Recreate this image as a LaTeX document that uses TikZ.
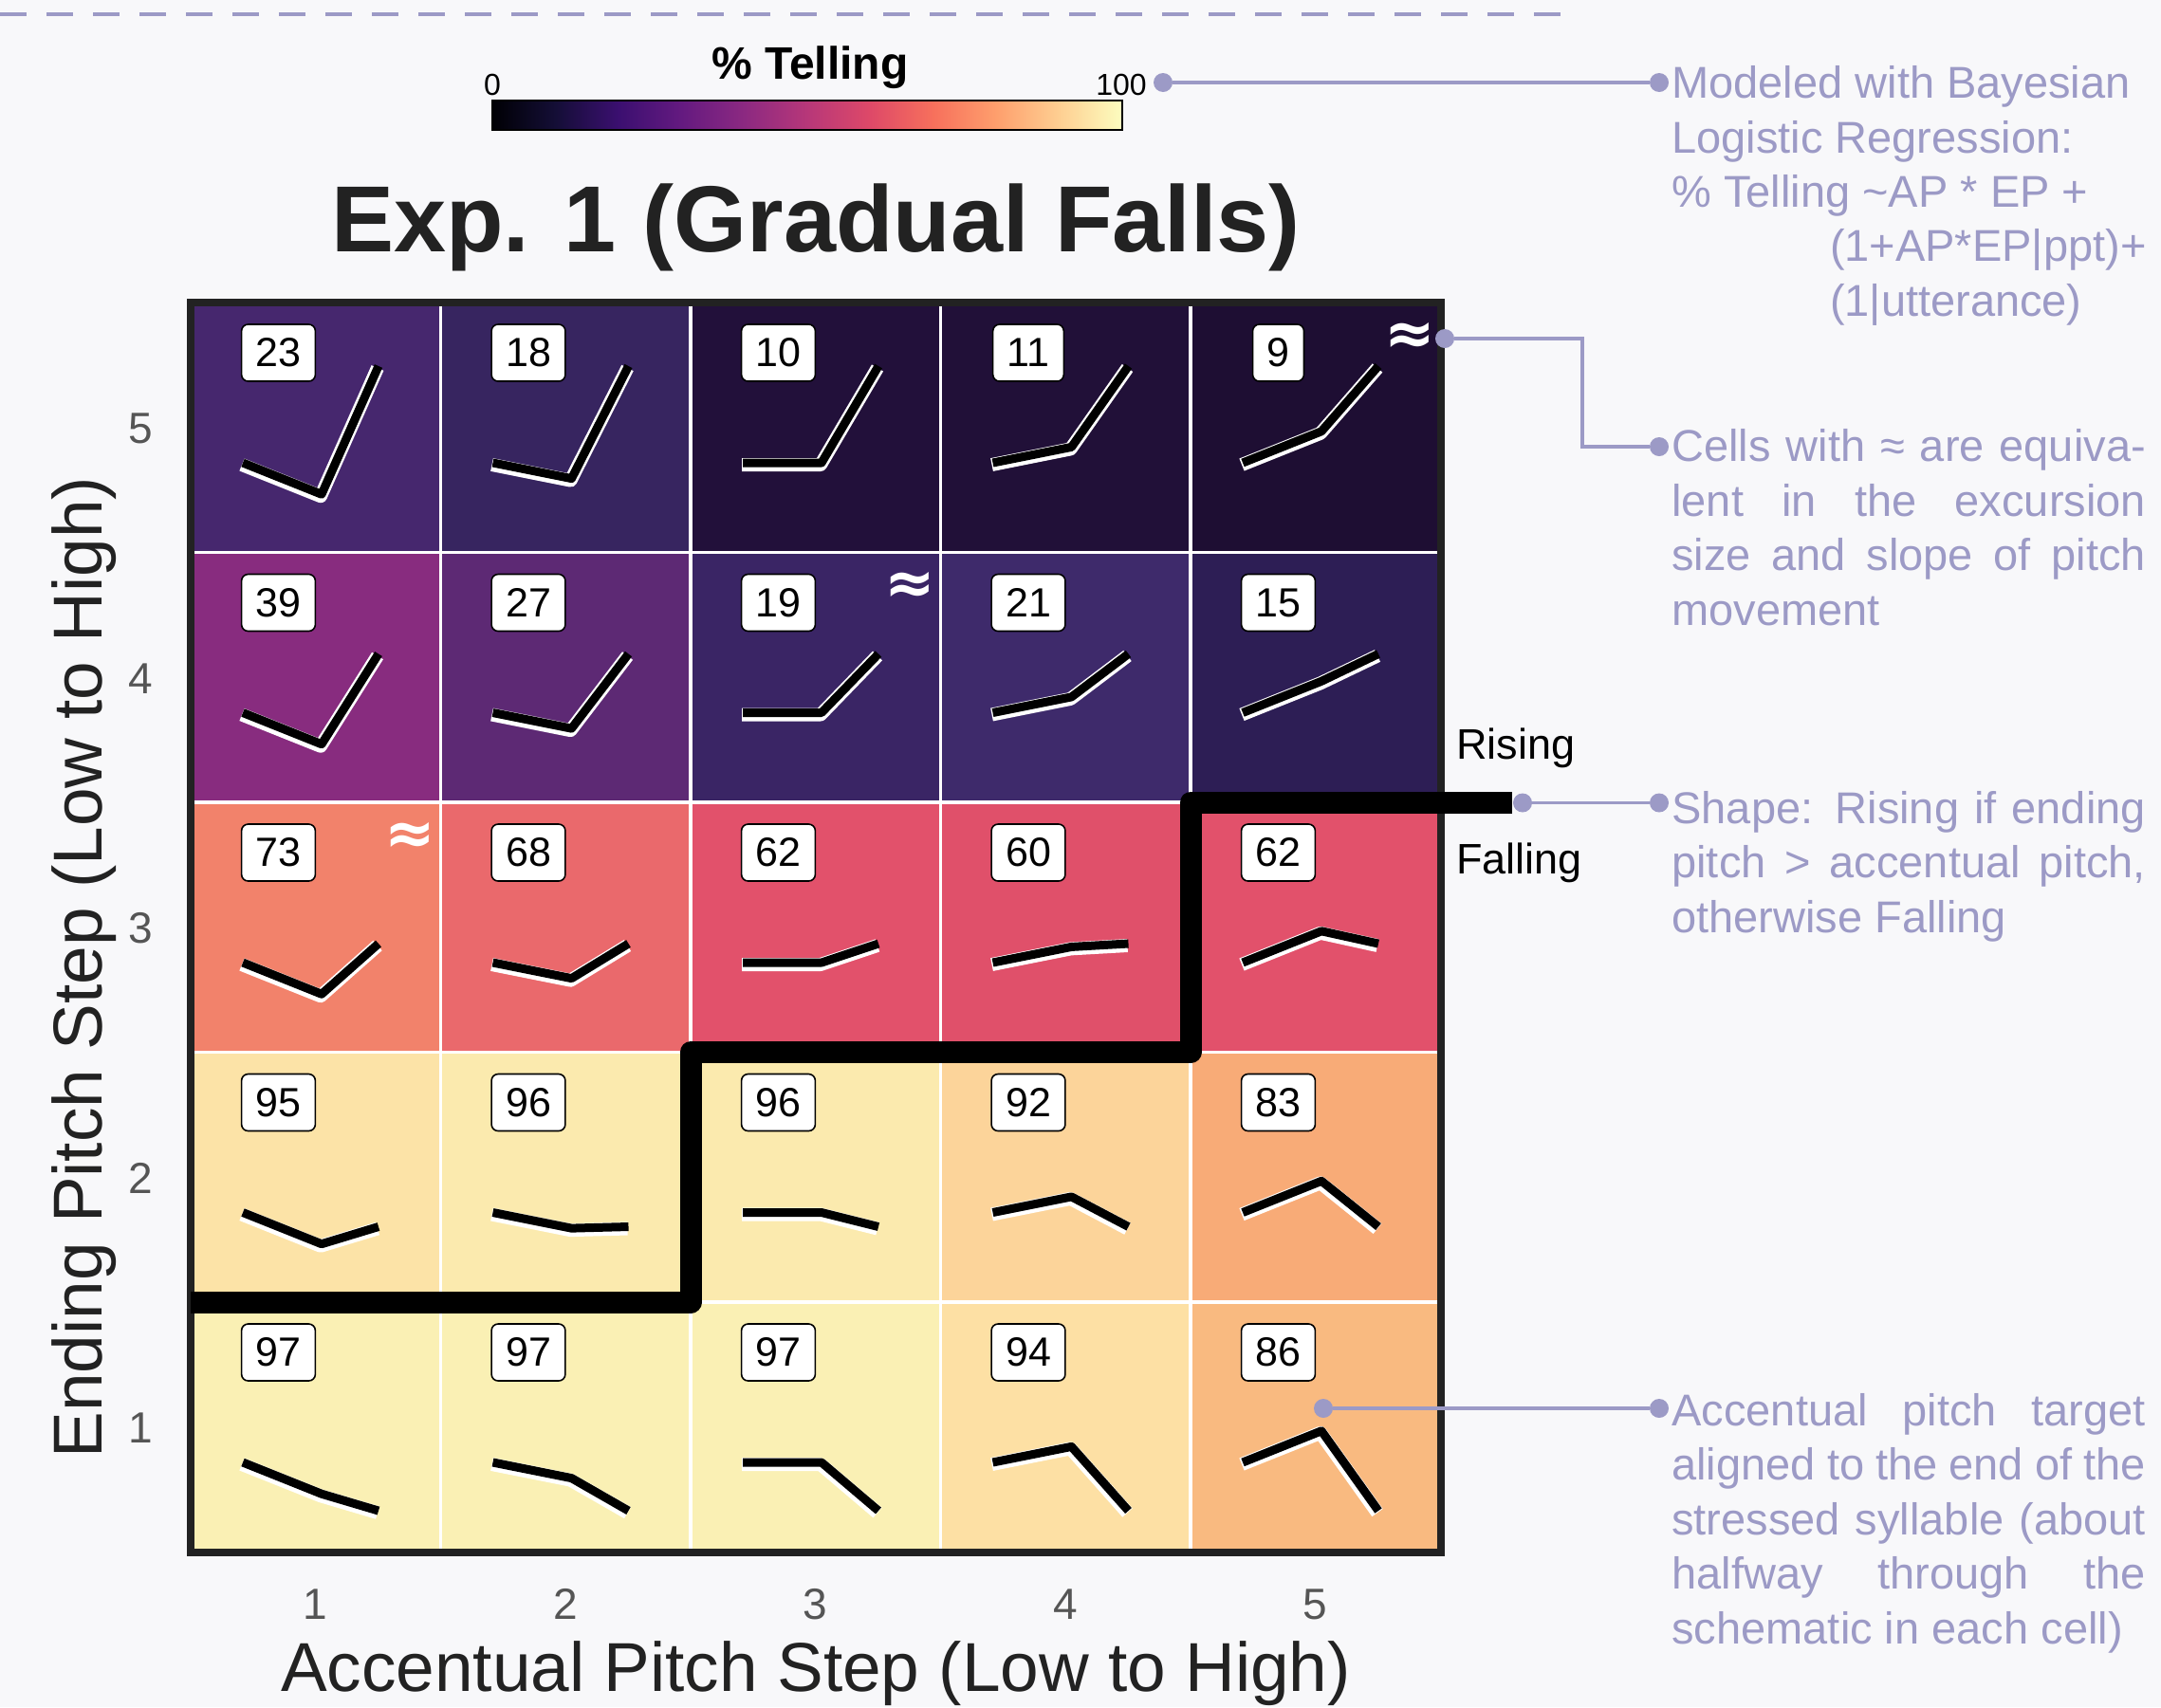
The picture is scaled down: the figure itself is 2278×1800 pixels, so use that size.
\documentclass[tikz,border=0pt]{standalone}
\usepackage{fontspec}
\setmainfont{Liberation Sans}
\newfontfamily\symfont{DejaVu Sans}
\usetikzlibrary{calc}

\definecolor{bgc}{HTML}{F8F8FA}
\definecolor{lav}{HTML}{9C9AC6}
\definecolor{framec}{HTML}{222222}
\definecolor{tickc}{HTML}{555555}
\definecolor{labc}{HTML}{222222}
\definecolor{mg0}{HTML}{000004}
\definecolor{mg1}{HTML}{140E36}
\definecolor{mg2}{HTML}{3B0F70}
\definecolor{mg3}{HTML}{641A80}
\definecolor{mg4}{HTML}{8C2981}
\definecolor{mg5}{HTML}{B73779}
\definecolor{mg6}{HTML}{DE4968}
\definecolor{mg7}{HTML}{F7705C}
\definecolor{mg8}{HTML}{FE9F6D}
\definecolor{mg9}{HTML}{FECF92}
\definecolor{mg10}{HTML}{FCFDBF}
\pgfdeclarehorizontalshading{magmashade}{100bp}{color(0bp)=(mg0); color(25bp)=(mg0); color(30bp)=(mg1); color(35bp)=(mg2); color(40bp)=(mg3); color(45bp)=(mg4); color(50bp)=(mg5); color(55bp)=(mg6); color(60bp)=(mg7); color(65bp)=(mg8); color(70bp)=(mg9); color(75bp)=(mg10); color(100bp)=(mg10)}

\newcommand{\jline}[1]{\makebox[249.75pt][s]{#1}}

\begin{document}
\begin{tikzpicture}[x=0.5pt,y=-0.5pt,
  numbox/.style={draw=black,line width=0.8pt,fill=white,rounded corners=3.5pt,inner xsep=7.5pt,inner ysep=0pt,minimum height=30pt,font=\fontsize{21.5}{22}\selectfont},
  pitchw/.style={white,line width=7pt,line join=round,xshift=-0.5pt,yshift=-1pt},
  pitchb/.style={black,line width=4.5pt,line join=round},
  approx/.style={text=white,font=\symfont\bfseries\fontsize{32}{32}\selectfont,inner sep=0pt},
  conn/.style={lav,line width=1.7pt},
  dot/.style={circle,fill=lav,inner sep=0pt,minimum size=10pt},
  annot/.style={text=lav,font=\fontsize{23.5}{28}\selectfont,inner sep=0pt,anchor=base west},
  tick/.style={text=tickc,font=\fontsize{23}{23}\selectfont,inner sep=0pt,anchor=base},
  axlab/.style={text=labc,font=\fontsize{36.5}{37}\selectfont,inner sep=0pt,anchor=base},
  shapelab/.style={text=black,font=\fontsize{22.5}{23}\selectfont,inner sep=0pt,anchor=base west}
]
\fill[bgc] (0,0) rectangle (2278,1800);
\useasboundingbox (0,0) rectangle (2278,1800);

% top dashed rule
\draw[lav,line width=1.6pt,dash pattern=on 14pt off 10.5pt] (0,15) -- (1660,15);

% colour bar
\shade[shading=magmashade] (519,106) rectangle (1183,137);
\draw[black,line width=0.6pt] (519,106) rectangle (1183,137);
\node[font=\fontsize{16}{16}\selectfont,anchor=base,inner sep=0pt] (cb0) at (519,100) {0};
\node[font=\fontsize{16}{16}\selectfont,anchor=base,inner sep=0pt] (cb100) at (1182,100) {100};
\node[font=\bfseries\fontsize{24}{24}\selectfont,anchor=base,inner sep=0pt] (cbt) at (854,83) {\% Telling};

% title
\node[font=\bfseries\fontsize{49.5}{50}\selectfont,text=labc,anchor=base,inner sep=0pt] (title) at (860,265) {Exp. 1 (Gradual Falls)};

% cells
\foreach \ap/\ep/\val/\hex/\ey in {
 1/5/23/46276E/67, 2/5/18/372560/67, 3/5/10/22103A/67, 4/5/11/211038/67, 5/5/9/1E0E33/67,
 1/4/39/882C7F/107, 2/4/27/5D2974/107, 3/4/19/3A2565/107, 4/4/21/3E2A6B/107, 5/4/15/2D1E55/107,
 1/3/73/F2826B/149, 2/3/68/EA696C/149, 3/3/62/E2516B/149, 4/3/60/E0506A/149, 5/3/62/E2516B/149,
 1/2/95/FCE3A7/184, 2/2/96/FBEAAE/184, 3/2/96/FBEAAE/184, 4/2/92/FCD49A/184, 5/2/83/F8AB77/184,
 1/1/97/FAF0B4/220, 2/1/97/FAF0B4/220, 3/1/97/FAF0B4/220, 4/1/94/FDE0A4/220, 5/1/86/F9BA80/220}{
  \pgfmathsetmacro\xl{201+(\ap-1)*263.5}
  \pgfmathsetmacro\yt{319+(5-\ep)*263.5}
  \definecolor{cellc}{HTML}{\hex}
  \fill[cellc] (\xl,\yt) rectangle ++(263.5,263.5);
}
% white grid lines
\foreach \i in {1,...,4}{
  \draw[white,line width=1.75pt] ({201+\i*263.5},319) -- ({201+\i*263.5},1636.5);
  \draw[white,line width=1.75pt] (201,{319+\i*263.5}) -- (1518.5,{319+\i*263.5});
}
% frame
\draw[framec,line width=4pt] (201,319) rectangle (1518.5,1636.5);

% schematics and numbers
\foreach \ap/\ep/\val/\ey in {
 1/5/23/67, 2/5/18/67, 3/5/10/67, 4/5/11/67, 5/5/9/67,
 1/4/39/107, 2/4/27/107, 3/4/19/107, 4/4/21/107, 5/4/15/107,
 1/3/73/149, 2/3/68/149, 3/3/62/149, 4/3/60/149, 5/3/62/149,
 1/2/95/184, 2/2/96/184, 3/2/96/184, 4/2/92/184, 5/2/83/184,
 1/1/97/220, 2/1/97/220, 3/1/97/220, 4/1/94/220, 5/1/86/220}{
  \pgfmathsetmacro\xl{201+(\ap-1)*263.5}
  \pgfmathsetmacro\yt{319+(5-\ep)*263.5}
  \pgfmathsetmacro\ay{169-16.6*(\ap-3)}
  \draw[pitchw] ({\xl+55},{\yt+169}) -- ({\xl+138},{\yt+\ay}) -- ({\xl+198},{\yt+\ey});
  \draw[pitchb] ({\xl+55},{\yt+169}) -- ({\xl+138},{\yt+\ay}) -- ({\xl+198},{\yt+\ey});
  \node[numbox] (n\ap\ep) at ({\xl+92.5},{\yt+53}) {\val};
}

% rising / falling boundary
\draw[black,line width=11.5pt,line join=round] (201,1373) -- (728,1373) -- (728,1109.5) -- (1255,1109.5) -- (1255,846) -- (1594,846);
\node[shapelab] (rising) at (1535,800) {Rising};
\node[shapelab] (falling) at (1535,921.7) {Falling};

% approx markers
\node[approx] (ax55) at (1486,357) {≈};
\node[approx] (ax34) at (959,620) {≈};
\node[approx] (ax13) at (432,884) {≈};

% ticks
\foreach \i in {1,...,5}{
  \node[tick] (xt\i) at ({201+(\i-0.5)*263.5},1707) {\i};
  \node[tick] (yt\i) at (148.5,{319+(5-\i+0.5)*263.5+17}) {\i};
}
\node[axlab] (xlab) at (860,1783) {Accentual Pitch Step (Low to High)};
\node[axlab,rotate=90] (ylab) at (107,1020) {Ending Pitch Step (Low to High)};

% connectors
\node[dot] (d1a) at (1226,87) {};
\node[dot] (d1b) at (1749,87) {};
\draw[conn] (d1a) -- (d1b);
\node[dot] (d2a) at (1523,357) {};
\node[dot] (d2b) at (1749,471) {};
\coordinate (d2k) at (1668,357);
\draw[conn] (d2a) -- (d2k) |- (d2b);
\node[dot] (d3a) at (1605,846.5) {};
\node[dot] (d3b) at (1749,846.5) {};
\draw[conn] (d3a) -- (d3b);
\node[dot] (d4a) at (1395,1485) {};
\node[dot] (d4b) at (1749,1485) {};
\draw[conn] (d4a) -- (d4b);

% annotations
\node[annot] (a1l1) at (1762,103.6) {Modeled with Bayesian};
\node[annot] (a1l2) at (1762,161) {Logistic Regression:};
\node[annot] (a1l3) at (1762,218.4) {\% Telling \textasciitilde AP * EP +};
\node[annot] (a1l4) at (1928.6,275.8) {(1+AP*EP|ppt)+};
\node[annot] (a1l5) at (1928.6,333.2) {(1|utterance)};

\node[annot] (a2l1) at (1762,486.6) {\jline{Cells with ≈ are equiva-}};
\node[annot] (a2l2) at (1762,544.1) {\jline{lent in the excursion}};
\node[annot] (a2l3) at (1762,601.6) {\jline{size and slope of pitch}};
\node[annot] (a2l4) at (1762,659.1) {movement};

\node[annot] (a3l1) at (1762,868) {\jline{Shape: Rising if ending}};
\node[annot] (a3l2) at (1762,925.5) {\jline{pitch > accentual pitch,}};
\node[annot] (a3l3) at (1762,983) {otherwise Falling};

\node[annot] (a4l1) at (1762,1503) {\jline{Accentual pitch target}};
\node[annot] (a4l2) at (1762,1560.5) {\jline{aligned to the end of the}};
\node[annot] (a4l3) at (1762,1618) {\jline{stressed syllable (about}};
\node[annot] (a4l4) at (1762,1675.5) {\jline{halfway through the}};
\node[annot] (a4l5) at (1762,1733) {schematic in each cell)};
\end{tikzpicture}
\end{document}
